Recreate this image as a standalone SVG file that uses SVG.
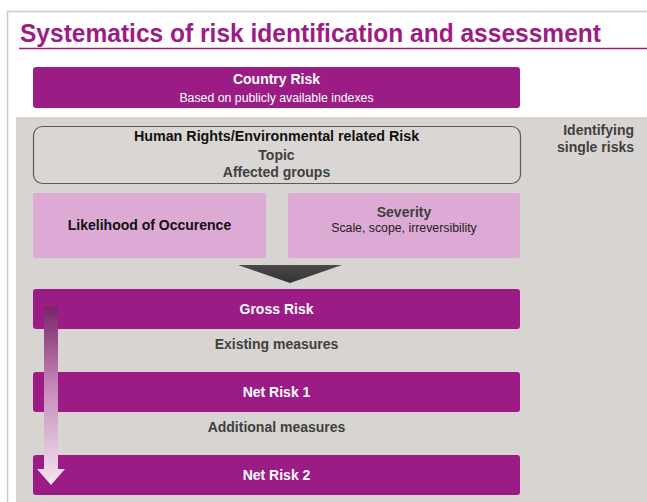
<svg xmlns="http://www.w3.org/2000/svg" width="647" height="502" viewBox="0 0 647 502">
<style>
text{font-family:"Liberation Sans",Arial,sans-serif;}
.purple{fill:#9c1c85;}
.pink{fill:#dcaad4;}
.wt{fill:#ffffff;font-weight:bold;font-size:14px;text-anchor:middle;}
.dk{fill:#404040;font-weight:bold;font-size:14px;text-anchor:middle;}
</style>
<defs>
<linearGradient id="ag" x1="0" y1="0" x2="0" y2="1">
<stop offset="0" stop-color="#7a2469"/>
<stop offset="0.45" stop-color="#c58ab9"/>
<stop offset="1" stop-color="#f3e6f1"/>
</linearGradient>
<linearGradient id="tg" x1="0" y1="0" x2="0" y2="1">
<stop offset="0" stop-color="#4a4a4a"/>
<stop offset="1" stop-color="#333333"/>
</linearGradient>
</defs>
<rect x="0" y="0" width="647" height="502" fill="#ffffff"/>
<path d="M7.5,502 V11.5 H647" fill="none" stroke="#cccccc" stroke-width="1.5"/>
<text x="20" y="41.5" font-size="25.5" font-weight="bold" fill="#9c1c85" textLength="581" lengthAdjust="spacingAndGlyphs">Systematics of risk identification and assessment</text>
<line x1="19" y1="48.5" x2="647" y2="48.5" stroke="#9c1c85" stroke-width="1.5"/>
<rect x="16" y="117" width="631" height="385" fill="#d7d4d1"/>
<g id="country-risk">
<rect class="purple" x="33" y="67" width="487" height="41" rx="3"/>
<text class="wt" x="276.5" y="84">Country Risk</text>
<text x="276.5" y="101.5" fill="#ffffff" font-size="12.3" text-anchor="middle">Based on publicly available indexes</text>
</g>
<g id="identifying">
<text class="dk" x="634" y="135" style="text-anchor:end" font-size="13.5">Identifying</text>
<text class="dk" x="634" y="152" style="text-anchor:end" font-size="13.5">single risks</text>
</g>
<g id="hr-risk">
<rect x="33.5" y="126.5" width="487" height="57" rx="9" fill="#d9d6d3" stroke="#5a5a5a" stroke-width="1.2"/>
<text x="276.5" y="141" font-size="14.3" font-weight="bold" fill="#111111" text-anchor="middle">Human Rights/Environmental related Risk</text>
<text class="dk" x="276.5" y="160">Topic</text>
<text class="dk" x="276.5" y="177">Affected groups</text>
</g>
<g id="likelihood">
<rect class="pink" x="33" y="193" width="233" height="65" rx="2"/>
<text x="149.5" y="230" font-size="14" font-weight="bold" fill="#111111" text-anchor="middle">Likelihood of Occurence</text>
</g>
<g id="severity">
<rect class="pink" x="288" y="193" width="232" height="65" rx="2"/>
<text class="dk" x="404" y="217">Severity</text>
<text x="404" y="231.5" font-size="12.3" fill="#222222" text-anchor="middle">Scale, scope, irreversibility</text>
</g>
<g id="gross-risk">
<rect class="purple" x="33" y="289" width="487" height="40" rx="3"/>
<text class="wt" x="276.5" y="314">Gross Risk</text>
</g>
<g id="net-risk-1">
<rect class="purple" x="33" y="372" width="487" height="40" rx="3"/>
<text class="wt" x="276.5" y="397">Net Risk 1</text>
</g>
<g id="net-risk-2">
<rect class="purple" x="33" y="455" width="487" height="40" rx="3"/>
<text class="wt" x="276.5" y="480">Net Risk 2</text>
</g>
<g id="connectors">
<polygon points="238,265 342,265 290,283" fill="url(#tg)"/>
<text class="dk" x="276.5" y="349">Existing measures</text>
<text class="dk" x="276.5" y="432">Additional measures</text>
<path d="M44,307 H58 V469 H65 L51,485 L37,469 H44 Z" fill="url(#ag)"/>
</g>
</svg>
